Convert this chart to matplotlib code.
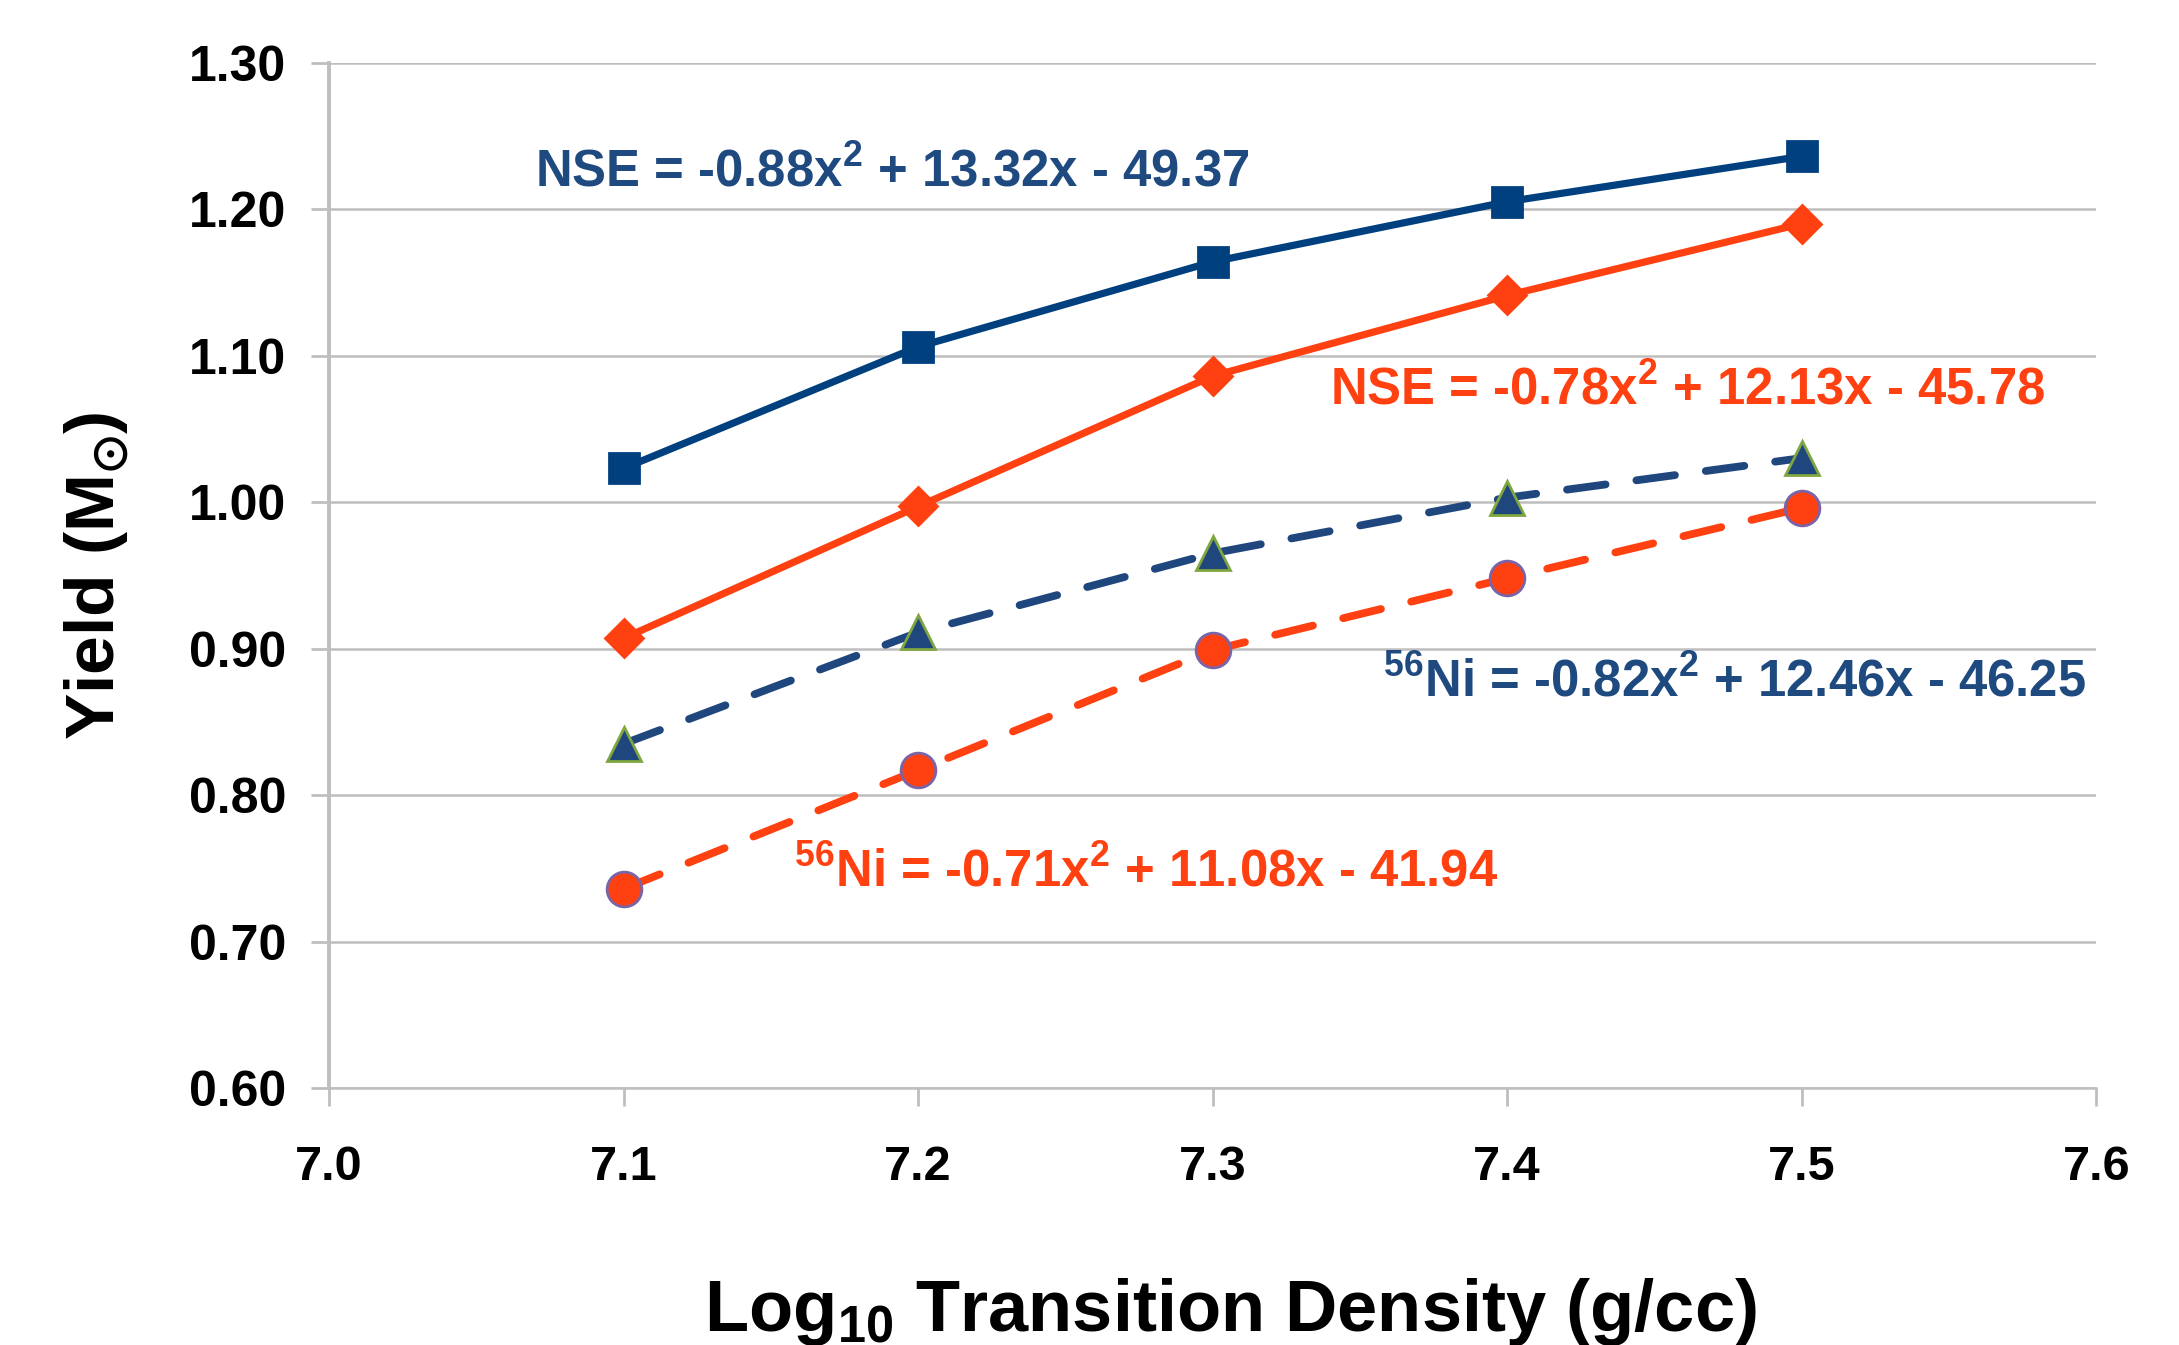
import numpy as np
import matplotlib
matplotlib.use("Agg")
import matplotlib.pyplot as plt

# data
density = [7.1, 7.2, 7.3, 7.4, 7.5]
nse_blue = [1.023, 1.106, 1.164, 1.205, 1.236]
nse_orange = [0.907, 0.997, 1.086, 1.141, 1.190]
ni_blue = [0.835, 0.911, 0.965, 1.003, 1.030]
ni_orange = [0.736, 0.817, 0.899, 0.948, 0.996]

x_ticks = [7.0, 7.1, 7.2, 7.3, 7.4, 7.5, 7.6]
y_ticks = [0.60, 0.70, 0.80, 0.90, 1.00, 1.10, 1.20, 1.30]

eq_nse_blue = "NSE = -0.88x$^2$ + 13.32x - 49.37"
eq_nse_orange = "NSE = -0.78x$^2$ + 12.13x - 45.78"
eq_ni_blue = "$^{56}$Ni = -0.82x$^2$ + 12.46x - 46.25"
eq_ni_orange = "$^{56}$Ni = -0.71x$^2$ + 11.08x - 41.94"

plt.rcParams['font.family'] = ['Liberation Sans', 'DejaVu Sans']
plt.rcParams['font.weight'] = 'bold'
plt.rcParams['mathtext.default'] = 'regular'

NAVY = '#00407F'
DBLUE = '#1F477E'
ORANGE = '#FF4010'
GRID = '#BEBEBE'

fig = plt.figure(figsize=(10.895, 6.725), dpi=200)
ax = fig.add_axes([0.151, 0.191, 0.811, 0.7625])

ax.plot(density, nse_blue, color=NAVY, lw=2.6, marker='s', ms=10.5, zorder=4)
ax.plot(density, nse_orange, color=ORANGE, lw=2.6, marker='D', ms=9.5, zorder=4)
ax.plot(density, ni_blue, color=DBLUE, lw=2.8, dashes=(5, 4), dash_capstyle='round',
        marker='^', ms=12, mfc=DBLUE, mec='#7FA640', mew=1.0, zorder=4)
ax.plot(density, ni_orange, color=ORANGE, lw=2.8, dashes=(5, 4), dash_capstyle='round',
        marker='o', ms=12.5, mfc=ORANGE, mec='#7A64A8', mew=1.0, zorder=4)

eq_font = dict(fontsize=18.3, fontweight='bold', va='center', ha='left')
ax.text(7.070, 1.225, eq_nse_blue, color='#1F4A80', **eq_font)
ax.text(7.340, 1.076, eq_nse_orange, color=ORANGE, **eq_font)
ax.text(7.358, 0.877, eq_ni_blue, color='#1F4A80', **eq_font)
ax.text(7.158, 0.747, eq_ni_orange, color=ORANGE, **eq_font)

ax.set_xlim(7.0, 7.6)
ax.set_ylim(0.60, 1.30)
ax.set_xticks(x_ticks)
ax.set_yticks(y_ticks)
ax.set_xticklabels([f"{v:.1f}" for v in x_ticks], fontsize=17.5, fontweight='bold')
ax.set_yticklabels([f"{v:.2f}" for v in y_ticks], fontsize=18, fontweight='bold')
ax.tick_params(axis='both', color=GRID, width=1.0, length=6.5)
ax.tick_params(axis='x', pad=14)
ax.tick_params(axis='y', pad=9)

ax.grid(axis='y', color=GRID, lw=0.9)
ax.set_axisbelow(True)
for s in ['top', 'right']:
    ax.spines[s].set_visible(False)
ax.spines['left'].set_color(GRID)
ax.spines['left'].set_linewidth(1.4)
ax.spines['bottom'].set_color(GRID)
ax.spines['bottom'].set_linewidth(0.9)

ax.set_ylabel("Yield (M$_{\\odot}$)", fontsize=25, fontweight='bold')
ax.yaxis.set_label_coords(-0.112, 0.5)
ax.set_xlabel("Log$_{10}$ Transition Density (g/cc)", fontsize=26, fontweight='bold')
ax.xaxis.set_label_coords(0.51, -0.183)

fig.savefig("out.png", dpi=200)
